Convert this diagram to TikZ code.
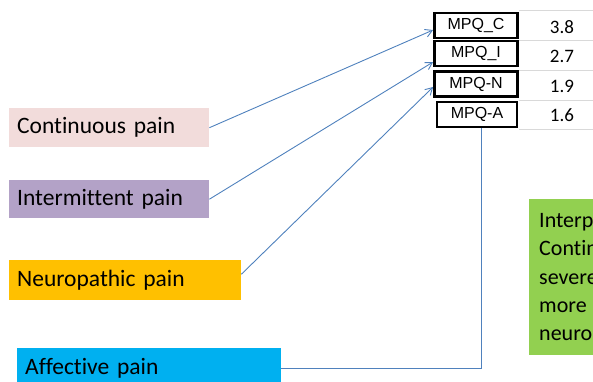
\documentclass[tikz,border=0pt]{standalone}
\usepackage{fontspec}
\setmainfont{Carlito}[Ligatures={NoCommon}]
\newfontfamily\arialfont{Liberation Sans}
\usetikzlibrary{arrows.meta, positioning}
\definecolor{PainPink}{HTML}{F2DCDB}
\definecolor{PainPurple}{HTML}{B3A2C7}
\definecolor{PainOrange}{HTML}{FFC000}
\definecolor{PainCyan}{HTML}{00B0F0}
\definecolor{InterpGreen}{HTML}{92D050}
\definecolor{LinkBlue}{HTML}{4F81BD}
\definecolor{GridGray}{HTML}{D9D9D9}

\begin{document}
\begin{tikzpicture}[
    x=1pt, y=-1pt,
    labelbox/.style={anchor=north west, align=left, inner xsep=8pt, inner ysep=0pt, font=\fontsize{23.5}{28}\selectfont},
    mpqbox/.style={draw=black, line width=2.8pt, minimum width=83pt, minimum height=25pt, inner sep=0pt, font=\arialfont\fontsize{16}{16}\selectfont},
    valtext/.style={inner sep=0pt, font=\fontsize{19}{19}\selectfont},
    gridline/.style={draw=GridGray, line width=1pt},
    link/.style={draw=LinkBlue, line width=0.9pt}
]
\useasboundingbox (0,0) rectangle (593,381);
\clip (0,0) rectangle (593,381);

% value column
\foreach \y in {10,40,70,100,129}
    \draw[gridline] (519,\y) -- (593,\y);
\node[valtext] (valC) at (562,27) {3.8};
\node[valtext] (valI) at (562,56.5) {2.7};
\node[valtext] (valN) at (562,86.5) {1.9};
\node[valtext] (valA) at (562,115) {1.6};

% MPQ boxes
\node[mpqbox] (mpqC) at (476,25.5) {MPQ\_C};
\node[mpqbox] (mpqI) at (476,53.5) {MPQ\_I};
\node[mpqbox] (mpqN) at (476,84) {MPQ-N};
\node[mpqbox, minimum width=80pt] (mpqA) at (477,114.5) {MPQ-A};

% pain types
\node[labelbox, fill=PainPink, text width=184pt, minimum height=39pt] (cont) at (9,108) {Continuous pain};
\node[labelbox, fill=PainPurple, text width=184pt, minimum height=38pt] (inter) at (9,180) {Intermittent pain};
\node[labelbox, fill=PainOrange, text width=216pt, minimum height=40pt] (neuro) at (9,260) {Neuropathic pain};
\node[labelbox, fill=PainCyan, text width=248pt, minimum height=40pt] (affect) at (17,348) {Affective pain};

% interpretation
\node[labelbox, fill=InterpGreen, text width=100pt, minimum height=156pt, inner xsep=10pt, font=\fontsize{22}{28.2}\selectfont] (interp) at (529,199) {Interp\\Contin\\severe\\more\\neuro};

% links
\draw[link, -{Straight Barb[length=7pt,width=8pt]}] (cont.east) -- ([yshift=-4.5pt]mpqC.west);
\draw[link, -{Straight Barb[length=7pt,width=8pt]}] (inter.east) -- ([yshift=-8.5pt]mpqI.west);
\draw[link, -{Straight Barb[length=7pt,width=8pt]}] ([yshift=6pt]neuro.east) -- ([yshift=-3pt]mpqN.west);
\draw[link] (affect.east) -| ([xshift=4pt]mpqA.south);
\end{tikzpicture}
\end{document}
